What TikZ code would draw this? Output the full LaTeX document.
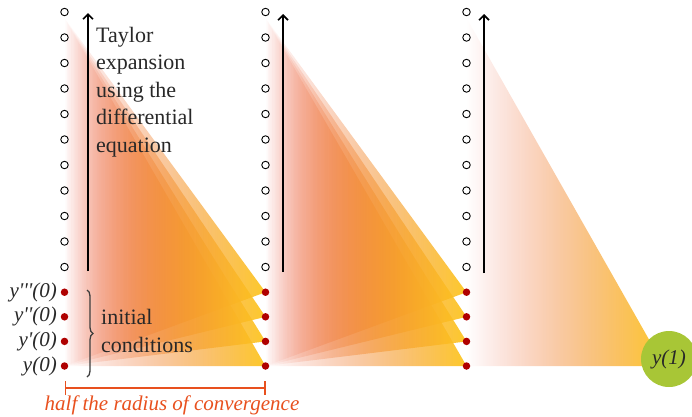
\documentclass[tikz,border=0pt]{standalone}
\usepackage{fontspec}
\setmainfont{Liberation Serif}
\usetikzlibrary{arrows.meta,decorations.pathreplacing,fadings}
\definecolor{triL}{RGB}{232,80,63}
\definecolor{triM}{RGB}{243,150,65}
\definecolor{triR}{RGB}{253,198,30}
\definecolor{dotred}{RGB}{175,0,0}
\definecolor{convred}{RGB}{232,80,30}
\definecolor{ygreen}{RGB}{168,198,54}
\definecolor{txt}{RGB}{40,40,40}
\tikzfading[name=fadeR, left color=transparent!100, middle color=transparent!50, right color=transparent!0]
\begin{document}
\begin{tikzpicture}[x=1pt,y=-1pt,
  tri/.style={left color=triL, middle color=triM, right color=triR, path fading=fadeR, fill opacity=0.95},
  opendot/.style={circle, draw=black, fill=white, line width=0.9pt, inner sep=0pt, minimum size=7.5pt},
  reddot/.style={circle, fill=dotred, inner sep=0pt, minimum size=7.5pt},
  lbl/.style={text=txt, inner sep=0pt, font=\itshape\fontsize{21}{25}\selectfont},
  body/.style={text=txt, inner sep=0pt, align=left, font=\fontsize{22}{27.5}\selectfont},
  uparrow/.style={line width=1.6pt, -{Straight Barb[length=5pt,width=10pt]}},
  bracebar/.style={draw=txt!90, line width=1.3pt, decorate, decoration={brace, amplitude=6pt}},
  convline/.style={draw=convred, line width=1.5pt, {Bar[width=14pt]}-{Bar[width=14pt]}}
]
\useasboundingbox (0,0) rectangle (692,416);
% coordinates of the columns
\foreach \c/\x in {1/64.5,2/265.5,3/466.5} {
  \foreach \k in {0,...,3} \coordinate (p\c-\k) at (\x, 366-24.6*\k);
  \foreach \k in {4,...,14} \coordinate (p\c-\k) at (\x, 267-25.5*\k+102);
  \coordinate (t\c) at (\x, 18);
}
\coordinate (apx) at (664,366);
% triangles
\foreach \k in {0,...,3} {
  \shade[tri] (p1-0) -- (t1) -- (p2-\k) -- cycle;
  \shade[tri] (p2-0) -- (t2) -- (p3-\k) -- cycle;
}
\shade[tri] (p3-0) -- (t3) -- (apx) -- cycle;
% dots
\foreach \c in {1,2,3} {
  \foreach \k in {0,...,3} \node[reddot] (d\c-\k) at (p\c-\k) {};
  \foreach \k in {4,...,14} \node[opendot] (d\c-\k) at (p\c-\k) {};
}
% arrows
\coordinate (a1b) at (88,271); \coordinate (a1t) at (88,13);
\coordinate (a2b) at (283,272); \coordinate (a2t) at (283,14);
\coordinate (a3b) at (484,273); \coordinate (a3t) at (484,14);
\draw[uparrow] (a1b) -- (a1t);
\draw[uparrow] (a2b) -- (a2t);
\draw[uparrow] (a3b) -- (a3t);
% text
\node[body, anchor=north west] (taylor) at (96,27) {Taylor\\expansion\\using the\\differential\\equation};
\node[lbl, anchor=east] (l3) at (57,292.2) {y\textquotesingle\textquotesingle\textquotesingle(0)};
\node[lbl, anchor=east] (l2) at (57,316.8) {y\textquotesingle\textquotesingle(0)};
\node[lbl, anchor=east] (l1) at (57,341.4) {y\textquotesingle(0)};
\node[lbl, anchor=east] (l0) at (57,366) {y(0)};
% brace
\coordinate (bt) at (87,290); \coordinate (bb) at (87,377);
\draw[bracebar] (bt) -- (bb);
\node[body, anchor=west] (ic) at (101,331) {initial\\conditions};
% radius bracket
\coordinate (r1) at (64.5,388); \coordinate (r2) at (265.5,388);
\draw[convline] (r1) -- (r2);
\node[text=convred, inner sep=0pt, font=\itshape\fontsize{21}{25}\selectfont, anchor=base] (hr) at (172,410) {half the radius of convergence};
% result
\node[circle, fill=ygreen, minimum size=56pt, inner sep=0pt, lbl] (y1) at (669,359) {y(1)};
\end{tikzpicture}
\end{document}
